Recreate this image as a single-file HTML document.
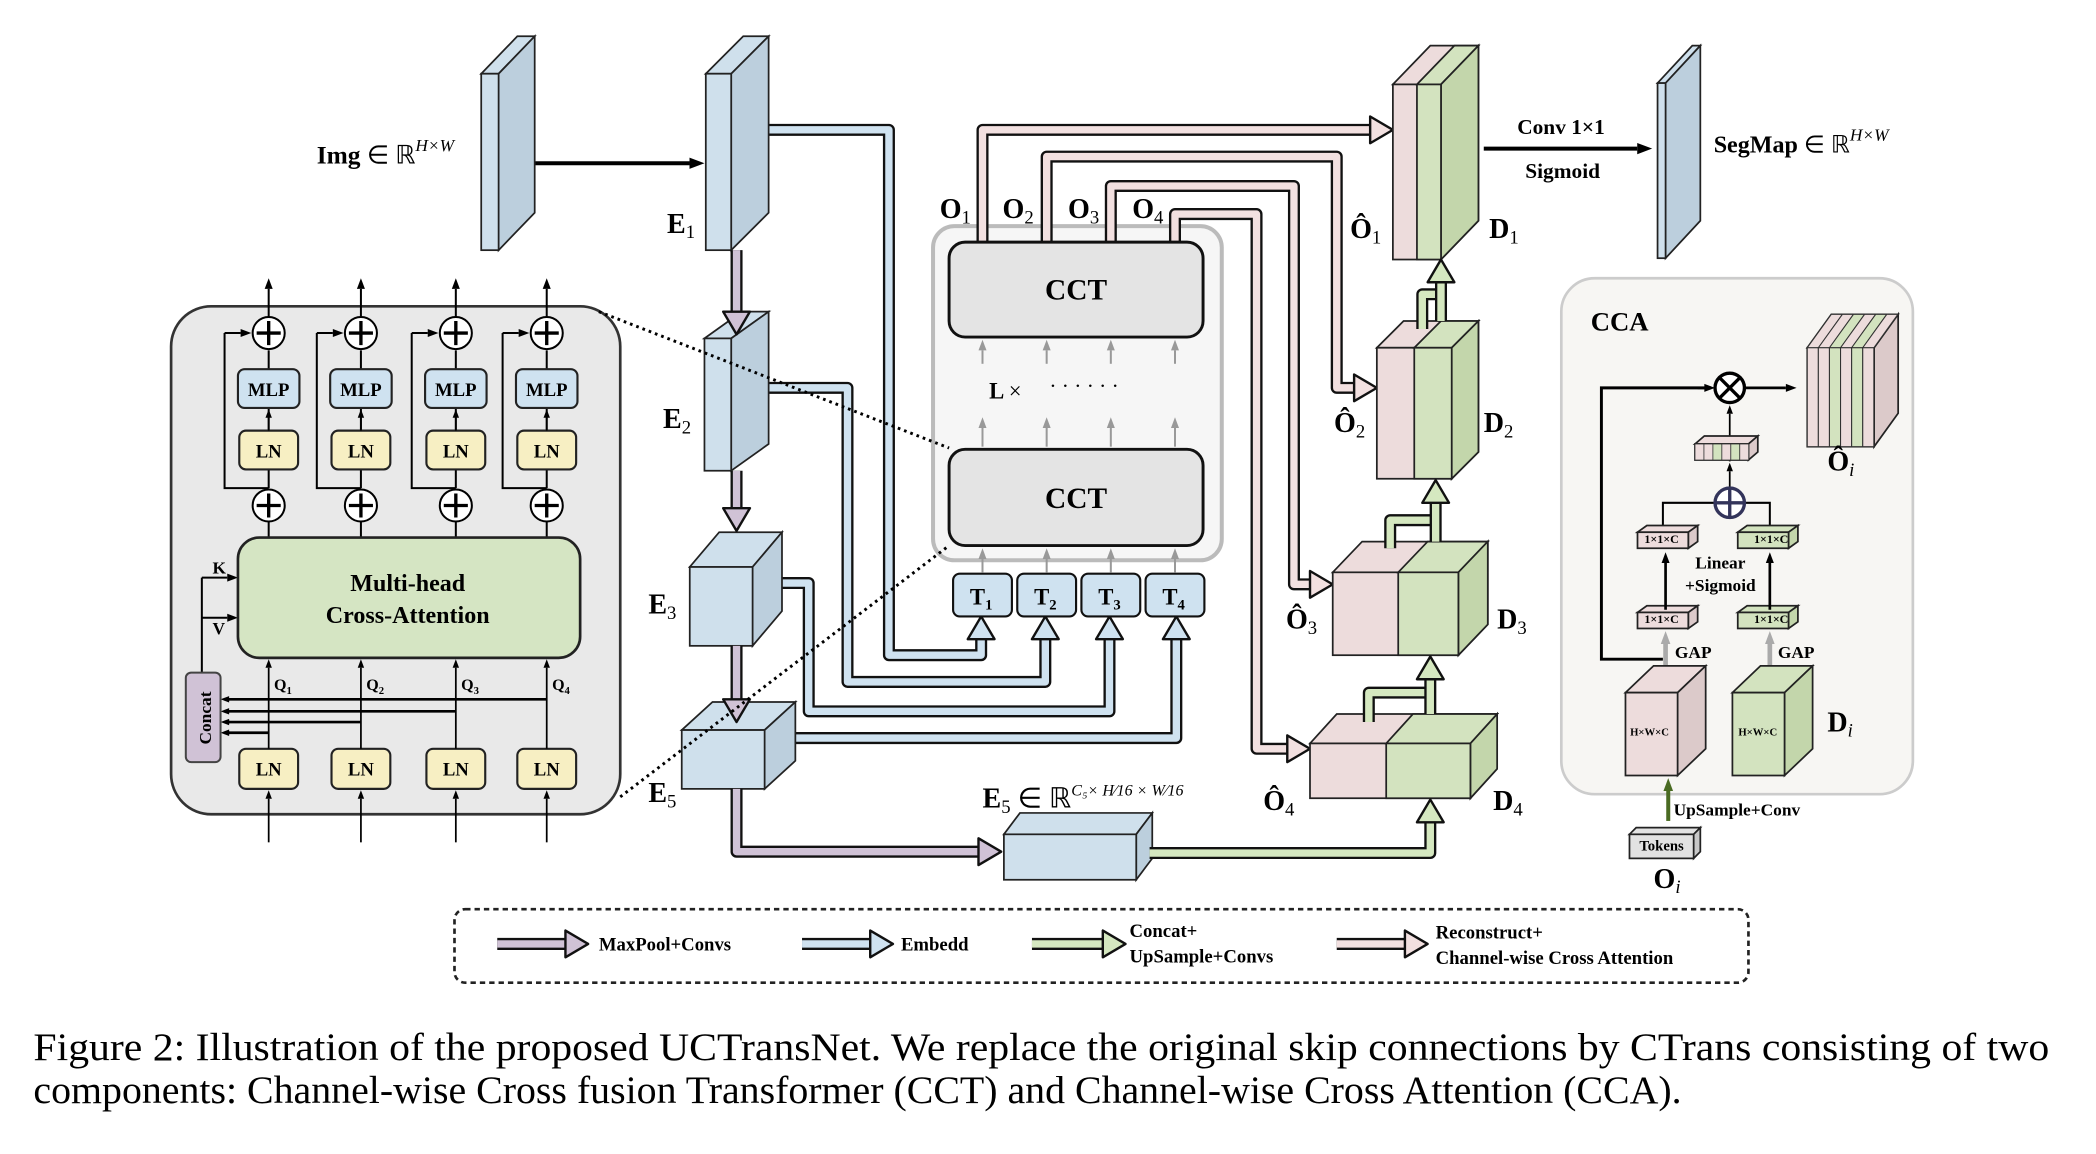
<!DOCTYPE html>
<html><head><meta charset="utf-8"><style>
html,body{margin:0;padding:0;background:#fff;}
svg{display:block;}
text{font-family:"Liberation Serif",serif;fill:#000;}
.b{font-weight:bold;}
</style></head><body>
<svg id="s" width="2096" height="1154" viewBox="0 0 1568 863" xmlns="http://www.w3.org/2000/svg">
<rect width="1568" height="863" fill="#fff"/>
<rect x="128" y="229" width="336" height="380" rx="30" fill="#e9e9e9" stroke="#333" stroke-width="2"/>
<rect x="698" y="169" width="216" height="250" rx="16" fill="#f6f6f6" stroke="#bbb" stroke-width="3"/>
<rect x="1168" y="208" width="263" height="386" rx="25" fill="#f7f6f3" stroke="#ccc" stroke-width="2"/>
<rect x="340" y="680" width="968" height="55" rx="8" fill="none" stroke="#222" stroke-width="2" stroke-dasharray="4,3"/>
<g id="g"></g>
<text x="237" y="122" font-size="19" class="b">Img <tspan font-weight="normal">∈ ℝ</tspan><tspan font-size="13" dy="-9" font-style="italic" font-weight="normal">H×W</tspan></text>
<text x="499" y="174" font-size="21" class="b">E<tspan font-size="14" dy="4" font-weight="normal">1</tspan></text>
<text x="496" y="320" font-size="21" class="b">E<tspan font-size="14" dy="4" font-weight="normal">2</tspan></text>
<text x="485" y="459" font-size="21" class="b">E<tspan font-size="14" dy="4" font-weight="normal">3</tspan></text>
<text x="485" y="600" font-size="21" class="b">E<tspan font-size="14" dy="4" font-weight="normal">5</tspan></text>
<text x="735" y="604" font-size="21" class="b">E<tspan font-size="14" dy="4" font-weight="normal">5</tspan><tspan dy="-4" font-weight="normal"> ∈ ℝ</tspan><tspan font-size="12" dy="-9" font-style="italic" font-weight="normal">C₅× H⁄16 × W⁄16</tspan></text>
<text x="703" y="163" font-size="21" class="b">O<tspan font-size="14" dy="4" font-weight="normal">1</tspan></text>
<text x="750" y="163" font-size="21" class="b">O<tspan font-size="14" dy="4" font-weight="normal">2</tspan></text>
<text x="799" y="163" font-size="21" class="b">O<tspan font-size="14" dy="4" font-weight="normal">3</tspan></text>
<text x="847" y="163" font-size="21" class="b">O<tspan font-size="14" dy="4" font-weight="normal">4</tspan></text>
<text x="805" y="224" font-size="22" class="b" text-anchor="middle">CCT</text>
<text x="805" y="380" font-size="22" class="b" text-anchor="middle">CCT</text>
<text x="740" y="298" font-size="17" class="b">L <tspan font-weight="normal">×</tspan></text>
<text x="785" y="294" font-size="16">· · · · · ·</text>
<text x="734" y="452" font-size="17" class="b" text-anchor="middle">T<tspan font-size="11" dy="4">1</tspan></text>
<text x="782" y="452" font-size="17" class="b" text-anchor="middle">T<tspan font-size="11" dy="4">2</tspan></text>
<text x="830" y="452" font-size="17" class="b" text-anchor="middle">T<tspan font-size="11" dy="4">3</tspan></text>
<text x="878" y="452" font-size="17" class="b" text-anchor="middle">T<tspan font-size="11" dy="4">4</tspan></text>
<text x="1010" y="178" font-size="21" class="b">Ô<tspan font-size="14" dy="4" font-weight="normal">1</tspan></text>
<text x="1114" y="178" font-size="21" class="b">D<tspan font-size="14" dy="4" font-weight="normal">1</tspan></text>
<text x="998" y="323" font-size="21" class="b">Ô<tspan font-size="14" dy="4" font-weight="normal">2</tspan></text>
<text x="1110" y="323" font-size="21" class="b">D<tspan font-size="14" dy="4" font-weight="normal">2</tspan></text>
<text x="962" y="470" font-size="21" class="b">Ô<tspan font-size="14" dy="4" font-weight="normal">3</tspan></text>
<text x="1120" y="470" font-size="21" class="b">D<tspan font-size="14" dy="4" font-weight="normal">3</tspan></text>
<text x="945" y="606" font-size="21" class="b">Ô<tspan font-size="14" dy="4" font-weight="normal">4</tspan></text>
<text x="1117" y="606" font-size="21" class="b">D<tspan font-size="14" dy="4" font-weight="normal">4</tspan></text>
<text x="1135" y="100" font-size="16" class="b">Conv 1×1</text>
<text x="1141" y="133" font-size="16" class="b">Sigmoid</text>
<text x="1282" y="114" font-size="18" class="b">SegMap <tspan font-weight="normal">∈ ℝ</tspan><tspan font-size="13" dy="-9" font-style="italic" font-weight="normal">H×W</tspan></text>
<g font-size="14" class="b" text-anchor="middle">
<text x="201" y="296" class="b">MLP</text><text x="270" y="296" class="b">MLP</text><text x="341" y="296" class="b">MLP</text><text x="409" y="296" class="b">MLP</text>
<text x="201" y="342" class="b">LN</text><text x="270" y="342" class="b">LN</text><text x="341" y="342" class="b">LN</text><text x="409" y="342" class="b">LN</text>
<text x="201" y="580" class="b">LN</text><text x="270" y="580" class="b">LN</text><text x="341" y="580" class="b">LN</text><text x="409" y="580" class="b">LN</text>
</g>
<text x="305" y="442" font-size="18" class="b" text-anchor="middle">Multi-head</text>
<text x="305" y="466" font-size="18" class="b" text-anchor="middle">Cross-Attention</text>
<text x="159" y="429" font-size="13" class="b">K</text>
<text x="159" y="474" font-size="13" class="b">V</text>
<text transform="translate(158,537) rotate(-90)" font-size="13" class="b" text-anchor="middle">Concat</text>
<g font-size="12" class="b"><text x="205" y="516">Q<tspan font-size="8" dy="3">1</tspan></text><text x="274" y="516">Q<tspan font-size="8" dy="3">2</tspan></text><text x="345" y="516">Q<tspan font-size="8" dy="3">3</tspan></text><text x="413" y="516">Q<tspan font-size="8" dy="3">4</tspan></text></g>
<text x="1190" y="247" font-size="20" class="b">CCA</text>
<text x="1367" y="352" font-size="21" class="b">Ô<tspan font-size="14" dy="4" font-style="italic" font-weight="normal">i</tspan></text>
<g font-size="9" class="b" text-anchor="middle"><text x="1243" y="406">1×1×C</text><text x="1325" y="406">1×1×C</text><text x="1243" y="466">1×1×C</text><text x="1325" y="466">1×1×C</text>
<text x="1234" y="550" font-size="8">H×W×C</text><text x="1315" y="550" font-size="8">H×W×C</text></g>
<text x="1287" y="425" font-size="13" class="b" text-anchor="middle">Linear</text>
<text x="1287" y="442" font-size="13" class="b" text-anchor="middle">+Sigmoid</text>
<text x="1253" y="492" font-size="13" class="b">GAP</text>
<text x="1330" y="492" font-size="13" class="b">GAP</text>
<text x="1367" y="547" font-size="21" class="b">D<tspan font-size="14" dy="4" font-style="italic" font-weight="normal">i</tspan></text>
<text x="1252" y="610" font-size="13" class="b">UpSample+Conv</text>
<text x="1243" y="636" font-size="11" class="b" text-anchor="middle">Tokens</text>
<text x="1237" y="664" font-size="21" class="b">O<tspan font-size="14" dy="4" font-style="italic" font-weight="normal">i</tspan></text>
<text x="448" y="711" font-size="14" class="b">MaxPool+Convs</text>
<text x="674" y="711" font-size="14" class="b">Embedd</text>
<text x="845" y="701" font-size="14" class="b">Concat+</text>
<text x="845" y="720" font-size="14" class="b">UpSample+Convs</text>
<text x="1074" y="702" font-size="14" class="b">Reconstruct+</text>
<text x="1074" y="721" font-size="14" class="b">Channel-wise Cross Attention</text>
<text x="25" y="793" font-size="29" textLength="1508" lengthAdjust="spacingAndGlyphs">Figure 2: Illustration of the proposed UCTransNet. We replace the original skip connections by CTrans consisting of two</text>
<text x="25" y="825" font-size="29" textLength="1233" lengthAdjust="spacingAndGlyphs">components: Channel-wise Cross fusion Transformer (CCT) and Channel-wise Cross Attention (CCA).</text>
</svg>
<script>
var g=document.getElementById('g');var h='';
function P(pts){return pts.map(function(p){return p.join(',')}).join(' ');}
function box(x,y,w,H,dx,dy,f,s,t){
 h+='<polygon points="'+P([[x,y],[x+dx,y-dy],[x+w+dx,y-dy],[x+w,y]])+'" fill="'+(t||f)+'" stroke="#222" stroke-width="1.3"/>';
 h+='<polygon points="'+P([[x+w,y],[x+w+dx,y-dy],[x+w+dx,y+H-dy],[x+w,y+H]])+'" fill="'+s+'" stroke="#222" stroke-width="1.3"/>';
 h+='<rect x="'+x+'" y="'+y+'" width="'+w+'" height="'+H+'" fill="'+f+'" stroke="#222" stroke-width="1.3"/>';}
function ha(pts,c,hl){
 var n=pts.length,a=pts[n-2],b=pts[n-1];var dx=b[0]-a[0],dy=b[1]-a[1],L=Math.hypot(dx,dy);var ux=dx/L,uy=dy/L;hl=hl||17;
 var bx=b[0]-ux*hl,by=b[1]-uy*hl;var q=pts.slice(0,n-1).concat([[bx,by]]);
 h+='<polyline points="'+P(q)+'" fill="none" stroke="#111" stroke-width="9" stroke-linejoin="round"/>';
 h+='<polyline points="'+P(q)+'" fill="none" stroke="'+c+'" stroke-width="5.5" stroke-linejoin="round"/>';
 var px=-uy,py=ux,w=10;
 h+='<polygon points="'+P([[bx+px*w,by+py*w],[b[0],b[1]],[bx-px*w,by-py*w]])+'" fill="'+c+'" stroke="#111" stroke-width="1.8" stroke-linejoin="round"/>';}
function hl2(pts,c){h+='<polyline points="'+P(pts)+'" fill="none" stroke="#111" stroke-width="9" stroke-linejoin="round"/><polyline points="'+P(pts)+'" fill="none" stroke="'+c+'" stroke-width="5.5" stroke-linejoin="round"/>';}
function ar(x1,y1,x2,y2,c,w,hs){c=c||'#000';w=w||1.5;hs=hs||6;var dx=x2-x1,dy=y2-y1,L=Math.hypot(dx,dy),ux=dx/L,uy=dy/L;var bx=x2-ux*hs*1.6,by=y2-uy*hs*1.6;
 h+='<line x1="'+x1+'" y1="'+y1+'" x2="'+bx+'" y2="'+by+'" stroke="'+c+'" stroke-width="'+w+'"/>';
 h+='<polygon points="'+P([[bx-uy*hs*0.6,by+ux*hs*0.6],[x2,y2],[bx+uy*hs*0.6,by-ux*hs*0.6]])+'" fill="'+c+'"/>';}
function ln(p,c,w){h+='<polyline points="'+P(p)+'" fill="none" stroke="'+(c||'#000')+'" stroke-width="'+(w||1.5)+'"/>';}
var BL='#cfe0ec',BS='#bccfdd',PK='#eddcdc',PS='#dccaca',GR='#d3e3bf',GS='#c3d6ab',PU='#d0c2d6',BA='#cfe2f0',PA='#f2e0e0',GA='#d5e8c0';
ar(373,122,527,122,'#000',3,7);
ha([[567,97],[665,97],[665,490],[734,490],[734,461]],BA);
ha([[567,290],[634,290],[634,510],[782,510],[782,461]],BA);
ha([[576,436],[605,436],[605,532],[830,532],[830,461]],BA);
ha([[585,552],[880,552],[880,461]],BA);
ha([[735,181],[735,97],[1042,97]],PA);
ha([[783,181],[783,117],[1000,117],[1000,290],[1030,290]],PA);
ha([[831,181],[831,139],[968,139],[968,437],[997,437]],PA);
ha([[879,181],[879,160],[940,160],[940,560],[980,560]],PA);
box(360,55,13,132,27,28,BL,BS);
box(528,55,19,132,28,28,BL,BS);
box(527,253,20,99,28,20,BL,BS);
box(516,424,47,59,22,26,BL,BS);
box(510,546,62,44,23,21,BL,BS);
box(751,624,99,34,12,16,BL,BS);
box(1240,62,6,131,26,28,BL,BS);
box(1042,63,36,131,28,29,PK,GS,PK);box(1060,63,18,131,28,29,GR,GS);
box(1030,260,56,98,20,20,PK,GS,PK);box(1058,260,28,98,20,20,GR,GS);
box(997,428,94,62,22,23,PK,GS,PK);box(1046,428,45,62,22,23,GR,GS);
box(980,556,120,41,20,22,PK,GS,PK);box(1037,556,63,41,20,22,GR,GS);
ha([[551,187],[551,250]],PU);ha([[551,352],[551,397]],PU);ha([[551,483],[551,540]],PU);ha([[551,590],[551,637],[749,637]],PU);
ha([[860,638],[1070,638],[1070,598]],GA);
hl2([[1024,540],[1024,518],[1070,518]],GA);ha([[1070,534],[1070,491]],GA);
hl2([[1040,410],[1040,389],[1074,389]],GA);ha([[1074,405],[1074,359]],GA);
hl2([[1064,246],[1064,220],[1078,220]],GA);ha([[1078,240],[1078,194]],GA);
ar(1110,111,1236,111,'#000',3,7);
h+='<rect x="710" y="181" width="190" height="71" rx="12" fill="#e4e4e4" stroke="#111" stroke-width="2.2"/>';
h+='<rect x="710" y="336" width="190" height="72" rx="12" fill="#e4e4e4" stroke="#111" stroke-width="2.2"/>';
[735,783,831,879].forEach(function(x,i){ar(x,272,x,254,'#999',1.5,5);ar(x,334,x,312,'#999',1.5,5);ar(x,428,x,410,'#999',1.5,5);
 h+='<rect x="'+(x-22)+'" y="429" width="44" height="32" rx="5" fill="'+BA+'" stroke="#111" stroke-width="1.6"/>';});
[201,270,341,409].forEach(function(x,i){
 ar(x,237,x,208,'#000',1.5,5);
 ln([[x,365],[x,262]]);ln([[x,390],[x,402]]);
 ln([[x,365],[x-33,365],[x-33,249]]);ar(x-33,249,x-13,249,'#000',1.5,5);
 h+='<circle cx="'+x+'" cy="249" r="12" fill="#fff" stroke="#000" stroke-width="1.5"/><path d="M'+(x-9)+' 249h18M'+x+' 240v18" stroke="#000" stroke-width="2.5"/>';
 h+='<circle cx="'+x+'" cy="378" r="12" fill="#fff" stroke="#000" stroke-width="1.5"/><path d="M'+(x-9)+' 378h18M'+x+' 369v18" stroke="#000" stroke-width="2.5"/>';
 h+='<rect x="'+(x-23)+'" y="276" width="46" height="29" rx="5" fill="'+BA+'" stroke="#222" stroke-width="1.6"/>';
 h+='<rect x="'+(x-22)+'" y="322" width="44" height="29" rx="5" fill="#f7efc3" stroke="#222" stroke-width="1.6"/>';
 ar(x,322,x,306,'#000',1.3,4);
 h+='<rect x="'+(x-22)+'" y="560" width="44" height="30" rx="5" fill="#f7efc3" stroke="#222" stroke-width="1.6"/>';
 ar(x,630,x,591,'#000',1.3,4);ar(x,560,x,493,'#000',1.3,4);
 var yy=[548,540,532,523][i];ln([[x,yy],[168,yy]],'#000',2);ar(172,yy,165,yy,'#000',2,4);
});
ar(151,432,178,432,'#000',1.5,5);ar(151,462,178,462,'#000',1.5,5);ln([[151,432],[151,503]]);
h+='<rect x="178" y="402" width="256" height="90" rx="16" fill="#d5e5c3" stroke="#222" stroke-width="2"/>';
h+='<rect x="139" y="503" width="26" height="67" rx="4" fill="'+PU+'" stroke="#444" stroke-width="1.5"/>';
h+='<line x1="448" y1="233" x2="710" y2="335" stroke="#000" stroke-width="2.2" stroke-dasharray="2,3"/>';
h+='<line x1="464" y1="596" x2="710" y2="408" stroke="#000" stroke-width="2.2" stroke-dasharray="2,3"/>';
ln([[1244,493],[1198,493],[1198,290],[1280,290]],'#000',2.2);ar(1270,290,1283,290,'#000',2,5);ar(1305,290,1344,290,'#000',2,5);
h+='<circle cx="1294" cy="290" r="11" fill="#fff" stroke="#000" stroke-width="2.5"/><path d="M1286 282l16 16M1302 282l-16 16" stroke="#000" stroke-width="2.5"/>';
box(1352,260,50,74,18,25,PK,PS,PK);
['#eddcdc','#eddcdc','#d3e3bf','#eddcdc','#d3e3bf','#eddcdc'].forEach(function(c,i){var x=1352+i*8.3;h+='<polygon points="'+P([[x,260],[x+18,235],[x+26.3,235],[x+8.3,260]])+'" fill="'+c+'" stroke="#333" stroke-width="0.8"/><rect x="'+x+'" y="260" width="8.3" height="74" fill="'+c+'" stroke="#333" stroke-width="0.8"/>';});
ar(1294,345,1294,303,'#000',1.3,4);
box(1268,332,40,12,7,6,PK,PS,PK);
['#eddcdc','#eddcdc','#d3e3bf','#eddcdc','#d3e3bf','#eddcdc'].forEach(function(c,i){var x=1268+i*6.7;h+='<rect x="'+x+'" y="332" width="6.7" height="12" fill="'+c+'" stroke="#333" stroke-width="0.6"/>';});
ar(1294,366,1294,346,'#000',1.3,4);
ln([[1244,396],[1244,376],[1324,376],[1324,396]],'#000',1.5);
h+='<circle cx="1294" cy="376" r="11" fill="#fff" stroke="#33345a" stroke-width="2.5"/><path d="M1283 376h22M1294 365v22" stroke="#33345a" stroke-width="2.5"/>';
box(1225,398,38,12,7,5,PK,PS,PK);box(1300,398,38,12,7,5,GR,GS);
box(1225,458,38,12,7,5,PK,PS,PK);box(1300,458,38,12,7,5,GR,GS);
ar(1246,456,1246,413,'#000',2,5);ar(1324,456,1324,413,'#000',2,5);
ar(1246,518,1246,472,'#aaa',3.5,6);ar(1324,520,1324,472,'#aaa',3.5,6);
box(1216,518,39,62,21,20,PK,PS,PK);box(1296,518,39,62,21,20,GR,GS);
ar(1248,614,1248,582,'#4a6b22',3,6);
box(1219,624,48,18,5,5,'#e2e2e2','#c8c8c8','#e2e2e2');
ha([[372,706],[440,706]],PU);ha([[600,706],[668,706]],BA);ha([[772,706],[842,706]],GA);ha([[1000,706],[1068,706]],PA);
g.innerHTML=h;
</script>
</body></html>
